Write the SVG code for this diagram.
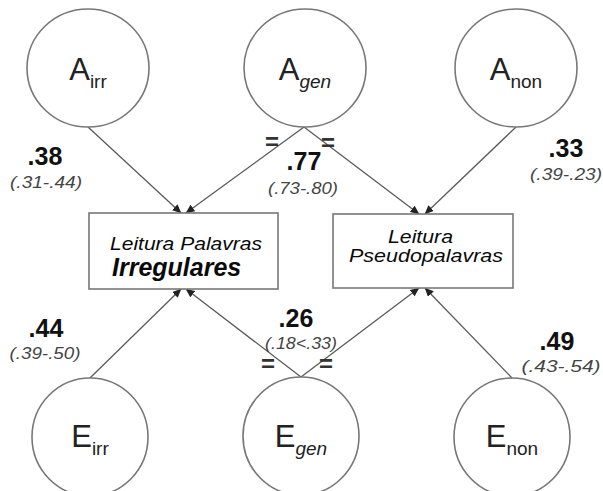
<svg xmlns="http://www.w3.org/2000/svg" width="603" height="491" viewBox="0 0 603 491">
  <style>
    .circ { fill: #ffffff; stroke: #777777; stroke-width: 1.6; }
    .box { fill: #ffffff; stroke: #777777; stroke-width: 1.6; }
    .edge { stroke: #5a5a5a; stroke-width: 1.3; fill: none; marker-end: url(#arrow); }
    .lab { font-family: "Liberation Sans", Arial, sans-serif; font-size: 31px; fill: #222222; text-anchor: middle; }
    .sub { font-size: 19px; }
    .coef { font-family: "Liberation Sans", Arial, sans-serif; font-size: 25px; font-weight: bold; fill: #111111; text-anchor: middle; }
    .ci { font-family: "Liberation Sans", Arial, sans-serif; font-size: 16px; font-style: italic; fill: #444444; text-anchor: middle; }
    .eq { font-family: "Liberation Sans", Arial, sans-serif; font-size: 24px; font-weight: bold; fill: #333333; text-anchor: middle; }
    .bt { font-family: "Liberation Sans", Arial, sans-serif; font-style: italic; fill: #0a0a0a; }
  </style>
  <defs>
    <marker id="arrow" markerWidth="9" markerHeight="8" refX="8.5" refY="4" orient="auto" markerUnits="userSpaceOnUse">
      <path d="M0,0 L9,4 L0,8 Z" fill="#222222"/>
    </marker>
  </defs>

  <!-- paths -->
  <g id="connectors">
    <line class="edge" x1="88" y1="127" x2="181" y2="213"/>
    <line class="edge" x1="304" y1="127" x2="186" y2="213"/>
    <line class="edge" x1="304" y1="127" x2="419" y2="214"/>
    <line class="edge" x1="516" y1="127" x2="425" y2="214"/>
    <line class="edge" x1="90" y1="378" x2="181" y2="289"/>
    <line class="edge" x1="301" y1="377" x2="186" y2="289"/>
    <line class="edge" x1="301" y1="377" x2="419" y2="288"/>
    <line class="edge" x1="512" y1="378" x2="425" y2="288"/>
    <!-- equality constraints -->
    <text class="eq" x="272" y="150">=</text>
    <text class="eq" x="328" y="151">=</text>
    <text class="eq" x="268" y="372">=</text>
    <text class="eq" x="326" y="372">=</text>
  </g>

  <!-- latent factors -->
  <g id="A_irr">
    <ellipse class="circ" cx="88" cy="68" rx="61" ry="59"/>
    <text class="lab" x="88" y="80">A<tspan class="sub" dy="8">irr</tspan></text>
  </g>
  <g id="A_gen">
    <ellipse class="circ" cx="305" cy="68" rx="61" ry="59"/>
    <text class="lab" x="305" y="80">A<tspan class="sub" dy="8" font-style="italic">gen</tspan></text>
  </g>
  <g id="A_non">
    <ellipse class="circ" cx="516" cy="68" rx="61" ry="59"/>
    <text class="lab" x="516" y="80">A<tspan class="sub" dy="8">non</tspan></text>
  </g>
  <g id="E_irr">
    <ellipse class="circ" cx="90" cy="437" rx="58" ry="59"/>
    <text class="lab" x="90" y="447">E<tspan class="sub" dy="8">irr</tspan></text>
  </g>
  <g id="E_gen">
    <ellipse class="circ" cx="301" cy="436" rx="58" ry="59"/>
    <text class="lab" x="301" y="447">E<tspan class="sub" dy="8" font-style="italic">gen</tspan></text>
  </g>
  <g id="E_non">
    <ellipse class="circ" cx="512" cy="437" rx="58" ry="59"/>
    <text class="lab" x="512" y="447">E<tspan class="sub" dy="8">non</tspan></text>
  </g>

  <!-- observed measures -->
  <g id="irregulares">
    <rect class="box" x="89" y="213" width="189" height="76"/>
    <text class="bt" x="110" y="250" font-size="18" textLength="152" lengthAdjust="spacingAndGlyphs">Leitura Palavras</text>
    <text class="bt" x="112" y="276" font-size="25" font-weight="bold">Irregulares</text>
  </g>
  <g id="pseudopalavras">
    <rect class="box" x="333" y="214" width="180" height="74"/>
    <text class="bt" x="388" y="243" font-size="18" textLength="65" lengthAdjust="spacingAndGlyphs">Leitura</text>
    <text class="bt" x="349" y="262" font-size="18" textLength="154" lengthAdjust="spacingAndGlyphs">Pseudopalavras</text>
  </g>

  <!-- loadings with intervals -->
  <g id="loadings">
    <text class="coef" x="45" y="165">.38</text>
    <text class="ci" x="46" y="188" textLength="72" lengthAdjust="spacingAndGlyphs">(.31-.44)</text>
    <text class="coef" x="304" y="170">.77</text>
    <text class="ci" x="303" y="194" textLength="70" lengthAdjust="spacingAndGlyphs">(.73-.80)</text>
    <text class="coef" x="566" y="157">.33</text>
    <text class="ci" x="566" y="180" textLength="72" lengthAdjust="spacingAndGlyphs">(.39-.23)</text>
    <text class="coef" x="46" y="337">.44</text>
    <text class="ci" x="45" y="359" textLength="71" lengthAdjust="spacingAndGlyphs">(.39-.50)</text>
    <text class="coef" x="296" y="327">.26</text>
    <text class="ci" x="301" y="349" textLength="72" lengthAdjust="spacingAndGlyphs">(.18&lt;.33)</text>
    <text class="coef" x="557" y="350">.49</text>
    <text class="ci" x="561" y="372" textLength="79" lengthAdjust="spacingAndGlyphs">(.43-.54)</text>
  </g>
</svg>
